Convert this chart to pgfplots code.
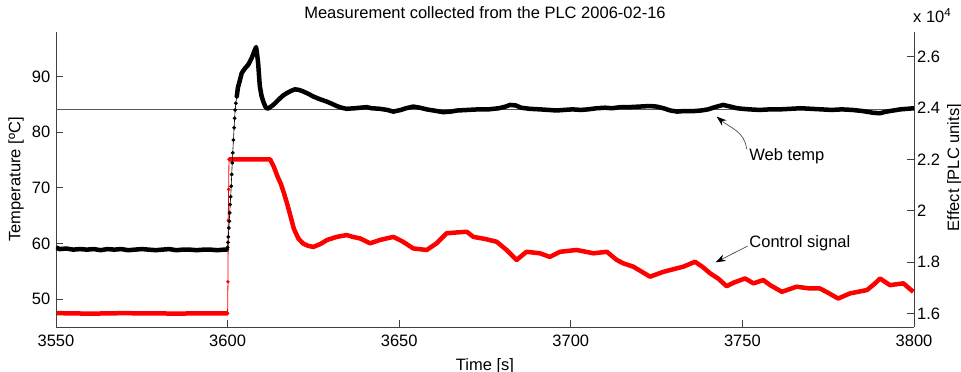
\documentclass[border=0pt]{standalone}
\usepackage{fontspec}
\setmainfont{Liberation Sans}
\usepackage{pgfplots}
\pgfplotsset{compat=1.18}
\usetikzlibrary{arrows.meta}

\pgfplotstableread{
t v
3550 59.3
3551 59.0
3553 59.1
3555 58.9
3557 59.0
3559 58.9
3561 59.0
3563 58.8
3565 59.0
3567 58.9
3569 59.0
3571 58.8
3573 58.9
3575 59.0
3577 58.9
3579 58.8
3581 58.9
3583 59.0
3585 58.8
3587 58.9
3589 58.9
3591 58.8
3593 58.9
3595 58.9
3597 58.8
3599 58.9
3599.9 58.9
}\tempA

\pgfplotstableread{
t v
3599.9 58.9
3600.0 59.3
3600.1 60.2
3600.2 61.2
3600.35 62.8
3600.5 64.0
3600.6 65.5
3600.75 67.0
3600.9 68.4
3601.05 70.3
3601.2 72.4
3601.35 74.5
3601.5 76.3
3601.7 78.6
3601.9 80.8
3602.05 82.5
3602.2 84.0
3602.4 85.2
3602.65 86.3
}\tempB

\pgfplotstableread{
t v
3602.65 86.3
3603.0 88.0
3603.4 88.9
3604.1 90.6
3605.1 91.5
3606.0 92.1
3607.0 93.3
3607.7 94.4
3608.3 95.3
3608.6 94.0
3608.9 92.4
3609.2 89.8
3609.4 88.2
3609.9 86.5
3610.4 85.5
3611.0 84.6
3611.6 84.2
3612.4 84.5
3613.3 84.9
3614.3 85.5
3615.3 86.1
3616.2 86.6
3617.2 87.0
3618.4 87.4
3619.6 87.7
3620.8 87.6
3622.1 87.3
3623.5 86.9
3625 86.4
3627 85.9
3628.9 85.5
3630.4 85.1
3631.8 84.7
3633.2 84.4
3634.7 84.2
3637 84.3
3640.5 84.5
3642 84.3
3644.4 84.2
3646.5 84.0
3648.3 83.7
3650.5 84.0
3652 84.3
3654.1 84.6
3656 84.4
3658 84.1
3660 83.9
3662.8 83.6
3665 83.7
3667 83.9
3670 84.0
3673 84.1
3676 84.1
3679 84.3
3681 84.6
3682.3 84.9
3684 84.8
3685.5 84.4
3688 84.2
3691 84.1
3693.5 84.0
3695.9 83.9
3698 84.0
3700.5 84.1
3703 84.0
3705 84.1
3707.5 84.3
3710 84.4
3712 84.3
3714.5 84.5
3717 84.5
3720 84.6
3723 84.7
3725 84.6
3727 84.3
3729 83.9
3731 83.7
3733 83.8
3736 83.8
3738 83.9
3740 84.1
3742 84.5
3744.4 84.9
3746.5 84.6
3748.5 84.3
3750 84.2
3752 84.1
3755 84.0
3758 84.1
3761 84.1
3764 84.2
3767 84.3
3770 84.2
3773 84.1
3776 84.0
3779 84.1
3782 84.0
3785 83.8
3788 83.5
3790 83.4
3792 83.7
3794 83.9
3796 84.1
3798 84.2
3800 84.3
}\tempC

\pgfplotstableread{
t v
3550 16010
3555 16000
3560 15990
3565 16000
3570 16010
3575 16000
3580 16000
3585 15990
3590 16000
3595 16000
3599.9 16000
}\effA

\pgfplotstableread{
t v
3599.9 16000
3600.0 16000
3600.1 17230
3600.2 19630
3600.3 20830
3600.4 22000
}\effB

\pgfplotstableread{
t v
3600.4 22000
3605 22000
3610 22000
3612.4 22000
3613.5 21700
3614.5 21350
3615.5 21050
3616.5 20650
3617.5 20200
3618.5 19700
3619.3 19300
3620.6 18920
3622 18720
3623.5 18630
3625 18590
3627 18700
3629 18860
3631.8 18980
3634.7 19050
3636.5 18980
3638.6 18920
3641.5 18730
3644.4 18860
3648.3 18980
3651 18800
3654.1 18530
3658 18470
3660.9 18730
3663.8 19120
3666.5 19150
3669.7 19180
3671.6 18980
3675 18900
3678.4 18790
3681.3 18470
3684.2 18080
3687.1 18400
3691 18340
3693.9 18200
3696.9 18400
3701.7 18470
3706.6 18340
3710.5 18400
3713.4 18080
3715.3 17950
3718.2 17820
3723.1 17430
3727.0 17620
3729 17690
3732.8 17820
3736.2 18010
3738.5 17800
3740.6 17560
3743 17350
3745.4 17060
3747.5 17200
3750.8 17360
3753.2 17170
3756.1 17300
3758.1 17100
3761.5 16840
3765.8 17040
3769 16980
3772.6 16970
3775 16800
3777.9 16580
3781.4 16780
3786.3 16910
3788.5 17150
3790.1 17360
3793 17100
3796.9 17170
3799.8 16840
}\effC

\begin{document}
\fontsize{16.5}{19}\selectfont
\begin{tikzpicture}
\path[use as bounding box] (-56pt,-45pt) rectangle (905pt,327pt);
\pgfplotsset{
  every axis/.append style={
    scale only axis, width=858pt, height=295pt,
    xmin=3550, xmax=3800,
    clip mode=individual,
    tick align=inside, major tick length=7pt,
    axis line style={black!75, line width=0.8pt},
    every tick/.style={black!75, line width=0.8pt},
    /pgf/number format/assume math mode=true,
    /pgf/number format/1000 sep={},
    tick label style={font=\fontsize{16.5}{19}\selectfont},
    label style={font=\fontsize{16.5}{19}\selectfont},
  }
}
% right axis (effect) drawn first
\begin{axis}[
  axis y line*=right, axis x line=none,
  ymin=15470, ymax=26960,
  ytick={16000,18000,20000,22000,24000,26000},
  yticklabels={1.6,1.8,2,2.2,2.4,2.6},
  scaled y ticks=false,
  yticklabel style={xshift=-2.5pt},
  ylabel={Effect [PLC units]},
  every axis y label/.style={at={([xshift=33pt,yshift=12pt]axis description cs:1,0.5)}, rotate=90, anchor=north, inner sep=0pt},
]
\addplot[red, line width=4.5pt, line join=round] table[x=t,y=v] {\effA};
\addplot[red, line width=0.8pt, mark=*, mark size=1.3pt] table[x=t,y=v] {\effB};
\addplot[red, line width=4.5pt, line join=round] table[x=t,y=v] {\effC};
\draw[black!70, line width=0.7pt, -{Stealth[length=10pt,width=7pt,black]}] (axis cs:3751.5,18620) -- (axis cs:3742.2,17990);
\node[anchor=west, inner sep=0pt] at (axis cs:3752,18730) {Control signal};
\node[anchor=base west, inner sep=0pt] at ([xshift=-1pt,yshift=9pt]axis description cs:1,1) {x 10\textsuperscript{4}};
\end{axis}
% left axis (temperature)
\begin{axis}[
  axis x line*=bottom, axis y line*=left,
  ymin=45, ymax=98,
  xtick={3550,3600,...,3800}, ytick={50,60,...,90},
  xticklabel style={yshift=-2.5pt},
  xlabel={Time [s]}, ylabel={Temperature [ºC]},
  every axis y label/.style={at={([xshift=-32pt]axis description cs:0,0.5)}, rotate=90, anchor=south, inner sep=0pt},
  title={Measurement collected from the PLC 2006-02-16},
  title style={font=\fontsize{16.5}{19}\selectfont, yshift=1.5pt},
]
\addplot[black!65, line width=1pt] coordinates {(3550,84) (3800,84)};
\addplot[black, line width=4.5pt, line join=round] table[x=t,y=v] {\tempA};
\addplot[black, line width=0.6pt, mark=*, mark size=1.6pt] table[x=t,y=v] {\tempB};
\addplot[black, line width=4.5pt, line join=round] table[x=t,y=v] {\tempC};
\draw[black!70, line width=0.7pt, -{Stealth[length=10pt,width=7pt,black]}] (axis cs:3751.2,77.0) to[out=95,in=-40] (axis cs:3742.5,82.8);
\node[anchor=west, inner sep=0pt] at (axis cs:3752,75.7) {Web temp};
\end{axis}
\end{tikzpicture}
\end{document}
